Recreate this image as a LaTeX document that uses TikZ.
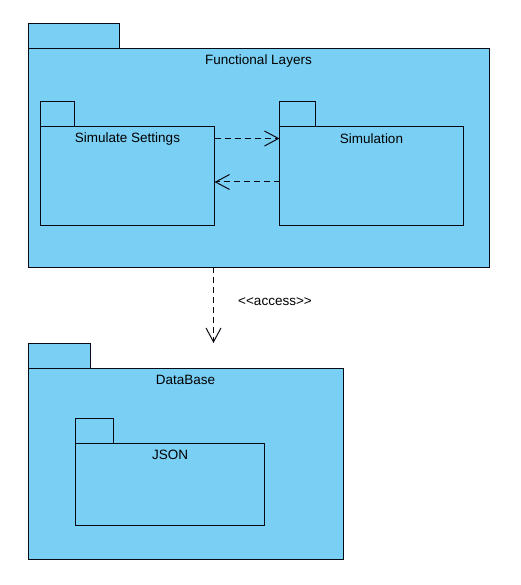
\documentclass[tikz,border=0pt]{standalone}
\usepackage{fontspec}
\setmainfont{Liberation Sans}
\usetikzlibrary{arrows.meta,calc}
\definecolor{pkgfill}{RGB}{122,207,245}
\definecolor{pkgline}{RGB}{10,10,20}
\tikzset{
  pkg/.style={draw=pkgline, fill=pkgfill, line width=1pt, anchor=north west, inner sep=0pt, outer sep=0pt},
  lbl/.style={font=\fontsize{13.5}{16}\selectfont, inner sep=0pt, text=black},
  dep/.style={draw=pkgline, line width=1pt, dash pattern=on 6pt off 4pt,
    -{Straight Barb[length=14pt,width=15pt,line width=1pt]}}
}
\begin{document}
\begin{tikzpicture}[x=1pt,y=-1pt]
\useasboundingbox (0,0) rectangle (520,585);
% Functional Layers
\node[pkg, minimum width=91pt, minimum height=25pt] (fltab) at (28,24) {};
\node[pkg, minimum width=461pt, minimum height=218pt] (fl) at (28,49) {};
\node[lbl] (fltext) at ($(fl.north)+(0,12.5)$) {Functional Layers};
% Simulate Settings
\node[pkg, minimum width=34pt, minimum height=25pt] (sstab) at (40.5,102) {};
\node[pkg, minimum width=174pt, minimum height=98pt] (ss) at (40.5,127) {};
\node[lbl] (sstext) at ($(ss.north)+(0,12)$) {Simulate Settings};
% Simulation
\node[pkg, minimum width=36pt, minimum height=25pt] (simtab) at (279.5,102) {};
\node[pkg, minimum width=184pt, minimum height=98pt] (sim) at (279.5,127) {};
\node[lbl] (simtext) at ($(sim.north)+(0,12)$) {Simulation};
% DataBase
\node[pkg, minimum width=62pt, minimum height=25pt] (dbtab) at (28,343) {};
\node[pkg, minimum width=315pt, minimum height=191pt] (db) at (28,368) {};
\node[lbl] (dbtext) at ($(db.north)+(0,11.5)$) {DataBase};
% JSON
\node[pkg, minimum width=38pt, minimum height=25pt] (jstab) at (75.5,418) {};
\node[pkg, minimum width=189pt, minimum height=82pt] (js) at (75.5,443) {};
\node[lbl] (jstext) at ($(js.north)+(0,11.5)$) {JSON};
% dependencies
\draw[dep] ($(ss.north east)+(0,11.5)$) -- ($(sim.north west)+(0,11.5)$);
\draw[dep] ($(sim.north west)+(0,55)$) -- ($(ss.north east)+(0,55)$);
\coordinate (accstart) at ($(fl.south west)+(185.5,0)$);
\coordinate (accend) at (accstart |- dbtab.north);
\draw[dep] (accstart) -- (accend);
\node[lbl] (acclabel) at (275,302) {{<}{<}access{>}{>}};
\end{tikzpicture}
\end{document}
